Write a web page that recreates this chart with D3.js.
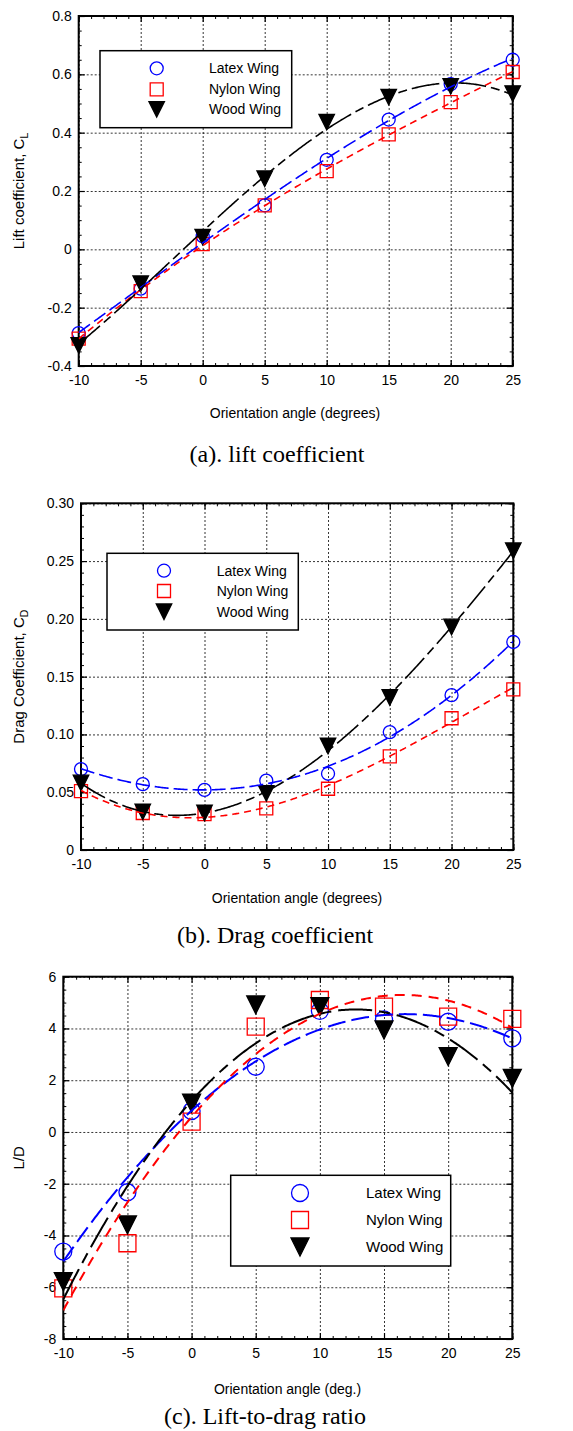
<!DOCTYPE html>
<html><head><meta charset="utf-8">
<script src="https://cdn.jsdelivr.net/npm/d3@7"></script>
<style>body{margin:0;background:#fff} svg{display:block}</style>
</head><body>
<script>
// ---------- data ----------
const angles=[-10,-5,0,5,10,15,20,25];
const seriesNames=["Latex Wing","Nylon Wing","Wood Wing"];
const liftLatex=[-0.287,-0.135,0.045,0.151,0.307,0.445,0.566,0.650];
const liftNylon=[-0.306,-0.143,0.018,0.151,0.268,0.394,0.505,0.608];
const liftWood=[-0.329,-0.118,0.042,0.242,0.436,0.522,0.559,0.534];
const dragLatex=[0.070,0.057,0.052,0.060,0.066,0.102,0.134,0.180];
const dragNylon=[0.051,0.032,0.031,0.036,0.053,0.081,0.114,0.139];
const dragWood=[0.058,0.033,0.032,0.049,0.090,0.132,0.193,0.259];
const ldLatex=[-4.62,-2.33,0.81,2.52,4.68,4.35,4.26,3.62];
const ldNylon=[-6.04,-4.30,0.40,4.07,5.10,4.84,4.46,4.37];
const ldWood=[-5.78,-3.59,1.11,4.91,4.84,3.94,2.91,2.07];
const xTickValues=[-10,-5,0,5,10,15,20,25];
const xTickLabels=["-10","-5","0","5","10","15","20","25"];
const liftTickValues=[-0.4,-0.2,0,0.2,0.4,0.6,0.8];
const liftTickLabels=["-0.4","-0.2","0","0.2","0.4","0.6","0.8"];
const dragTickValues=[0,0.05,0.10,0.15,0.20,0.25,0.30];
const dragTickLabels=["0","0.05","0.10","0.15","0.20","0.25","0.30"];
const ldTickValues=[-8,-6,-4,-2,0,2,4,6];
const ldTickLabels=["-8","-6","-4","-2","0","2","4","6"];
// polynomial order of each trend curve (Latex, Nylon, Wood)
const liftFitOrder=[3,3,3];
const dragFitOrder=[3,3,3];
const ldFitOrder=[2,2,2];

// ---------- helpers ----------
function polyfit(xs, ys, deg){
  const n=deg+1;
  const A=[...Array(n)].map(()=>Array(n+1).fill(0));
  for(let r=0;r<n;r++){
    for(let c=0;c<n;c++) A[r][c]=d3.sum(xs,x=>Math.pow(x,r+c));
    A[r][n]=d3.sum(xs.map((x,i)=>Math.pow(x,r)*ys[i]));
  }
  for(let i=0;i<n;i++){
    let p=i; for(let k=i+1;k<n;k++) if(Math.abs(A[k][i])>Math.abs(A[p][i])) p=k;
    [A[i],A[p]]=[A[p],A[i]];
    for(let k=0;k<n;k++){ if(k===i) continue; const f=A[k][i]/A[i][i]; for(let c=i;c<=n;c++) A[k][c]-=f*A[i][c]; }
  }
  const coef=A.map((row,i)=>row[n]/row[i]);
  return x=>coef.reduce((s,c,i)=>s+c*Math.pow(x,i),0);
}
function shapePath(shape, s){
  if(shape==="circle"){ const r=s/2; return `M${-r},0A${r},${r} 0 1,0 ${r},0A${r},${r} 0 1,0 ${-r},0Z`; }
  if(shape==="square"){ const h=s/2; return `M${-h},${-h}H${h}V${h}H${-h}Z`; }
  const w=s/2; return `M${-w},${-s/2}L${w},${-s/2}L0,${s/2}Z`;
}

const W=573,H=1431;
const svg=d3.select("body").append("svg").attr("width",W).attr("height",H);
const FONT="Liberation Sans, Arial, sans-serif";
const SERIF="Liberation Serif, Times New Roman, serif";

let clipId=0;
function panel(cfg){
  const g=svg.append("g");
  const x=d3.scaleLinear().domain([-10,25]).range([cfg.l,cfg.r]);
  const y=d3.scaleLinear().domain(cfg.yDomain).range([cfg.b,cfg.t]);
  const pw=cfg.r-cfg.l, ph=cfg.b-cfg.t;
  // grid
  g.append("g").attr("transform",`translate(0,${cfg.b})`)
    .call(d3.axisBottom(x).tickValues(xTickValues).tickSize(-ph).tickFormat(""))
    .call(a=>a.select(".domain").remove())
    .selectAll("line").attr("stroke","#000").attr("stroke-width",0.8).attr("stroke-dasharray","2,2");
  g.append("g").attr("transform",`translate(${cfg.l},0)`)
    .call(d3.axisLeft(y).tickValues(cfg.yTicks).tickSize(-pw).tickFormat(""))
    .call(a=>a.select(".domain").remove())
    .selectAll("line").attr("stroke","#000").attr("stroke-width",0.8).attr("stroke-dasharray","2,2");
  // minor ticks
  const xMinor=d3.range(-10,25.001,1);
  const yMinor=d3.range(cfg.yDomain[0],cfg.yDomain[1]+cfg.minor/2,cfg.minor);
  const axes=[
    [d3.axisBottom, x, `translate(0,${cfg.b})`, xMinor, xTickValues, xTickLabels],
    [d3.axisTop, x, `translate(0,${cfg.t})`, xMinor, xTickValues, null],
    [d3.axisLeft, y, `translate(${cfg.l},0)`, yMinor, cfg.yTicks, cfg.yLabels],
    [d3.axisRight, y, `translate(${cfg.r},0)`, yMinor, cfg.yTicks, null]
  ];
  axes.forEach(([ax,sc,tr,minor,major,labels])=>{
    g.append("g").attr("transform",tr).call(ax(sc).tickValues(minor).tickSize(-3).tickFormat(""))
      .call(a=>a.select(".domain").remove()).selectAll("line").attr("stroke","#000").attr("stroke-width",1);
    const a=g.append("g").attr("transform",tr)
      .call(ax(sc).tickValues(major).tickSize(-6).tickPadding(ax===d3.axisBottom?cfg.xPad:7)
        .tickFormat(labels?((d,i)=>labels[i]):""));
    a.select(".domain").remove();
    a.selectAll("line").attr("stroke","#000").attr("stroke-width",1.2);
    a.selectAll("text").attr("font-family",FONT).attr("font-size",cfg.tickFs).attr("fill","#000");
  });
  // frame
  g.append("rect").attr("x",cfg.l).attr("y",cfg.t).attr("width",pw).attr("height",ph)
    .attr("fill","none").attr("stroke","#000").attr("stroke-width",2);
  // clip
  const cid="clip"+(clipId++);
  svg.append("defs").append("clipPath").attr("id",cid).append("rect")
    .attr("x",cfg.l).attr("y",cfg.t).attr("width",pw).attr("height",ph);
  const styles=[
    {color:"#0000ff",shape:"circle"},
    {color:"#ff0000",shape:"square"},
    {color:"#000000",shape:"tri"}
  ];
  const fineX=d3.range(-10,25.0001,0.1);
  const line=d3.line().x(d=>x(d[0])).y(d=>y(d[1]));
  // markers
  const mk=g.append("g");
  cfg.series.forEach((vals,si)=>{
    const st=styles[si];
    mk.selectAll(null).data(angles.map((a,i)=>[a,vals[i]])).join("path")
      .attr("transform",d=>`translate(${x(d[0])},${y(d[1])})`)
      .attr("d",shapePath(st.shape, st.shape==="tri"?cfg.ts:cfg.ms))
      .attr("fill",st.shape==="tri"?"#000":"none")
      .attr("stroke",st.color).attr("stroke-width",1.3);
  });
  // fitted curves
  const cg=g.append("g").attr("clip-path",`url(#${cid})`);
  cfg.series.forEach((vals,si)=>{
    const f=polyfit(angles,vals,cfg.order[si]);
    cg.append("path").datum(fineX.map(v=>[v,f(v)])).attr("d",line)
      .attr("fill","none").attr("stroke",styles[si].color).attr("stroke-width",cfg.lw)
      .attr("stroke-dasharray",cfg.dashes[si]);
  });
  // legend
  const L=cfg.leg;
  g.append("rect").attr("x",L.x0).attr("y",L.y0).attr("width",L.x1-L.x0).attr("height",L.y1-L.y0)
    .attr("fill","#fff").attr("stroke","#000").attr("stroke-width",1.5);
  seriesNames.forEach((nm,i)=>{
    const st=styles[i];
    g.append("path").attr("transform",`translate(${L.sx},${L.rows[i]})`)
      .attr("d",shapePath(st.shape, st.shape==="tri"?cfg.ts:cfg.ms))
      .attr("fill",st.shape==="tri"?"#000":"none").attr("stroke",st.color).attr("stroke-width",1.3);
    g.append("text").attr("x",L.tx).attr("y",L.rows[i]).attr("dy","0.35em")
      .attr("font-family",FONT).attr("font-size",L.fs).text(nm);
  });
  // y title
  const yt=g.append("text").attr("transform",`translate(${cfg.ytx},${(cfg.t+cfg.b)/2}) rotate(-90)`)
    .attr("text-anchor","middle").attr("font-family",FONT).attr("font-size",cfg.yTitleFs);
  yt.append("tspan").text(cfg.yTitle);
  if(cfg.ySub) yt.append("tspan").attr("font-size",cfg.yTitleFs*0.7).attr("dy","0.35em").text(cfg.ySub);
  // x title
  g.append("text").attr("x",cfg.xtx).attr("y",cfg.xty).attr("text-anchor","middle")
    .attr("font-family",FONT).attr("font-size",cfg.titleFs).text(cfg.xTitle);
  // caption
  g.append("text").attr("x",cfg.capx).attr("y",cfg.capy).attr("text-anchor","middle")
    .attr("font-family",SERIF).attr("font-size",cfg.capFs).text(cfg.caption);
}

panel({l:78.7,r:512.7,t:16,b:366,yDomain:[-0.4,0.8],yTicks:liftTickValues,yLabels:liftTickLabels,minor:0.05,
  series:[liftLatex,liftNylon,liftWood],order:liftFitOrder,ms:13,ts:15.5,lw:1.6,tickFs:14,titleFs:14,yTitleFs:15,xPad:9,
  dashes:["14,5","7,5","28,5,9,5"],
  leg:{x0:100,y0:50.7,x1:291.7,y1:127.7,sx:156.7,tx:209,rows:[68.3,89.3,109.3],fs:14},
  yTitle:"Lift coefficient, C",ySub:"L",ytx:24,xTitle:"Orientation angle (degrees)",xtx:295,xty:418,
  caption:"(a). lift coefficient",capx:277,capy:462,capFs:24});

panel({l:81,r:513.3,t:503.3,b:850,yDomain:[0,0.3],yTicks:dragTickValues,yLabels:dragTickLabels,minor:0.01,
  series:[dragLatex,dragNylon,dragWood],order:dragFitOrder,ms:13,ts:15.5,lw:1.6,tickFs:14,titleFs:14,yTitleFs:15,xPad:9,
  dashes:["14,5","7,5","28,5,9,5"],
  leg:{x0:107,y0:553.3,x1:298.3,y1:630,sx:164,tx:216.7,rows:[570.7,591,611.7],fs:14},
  yTitle:"Drag Coefficient, C",ySub:"D",ytx:24,xTitle:"Orientation angle (degrees)",xtx:297,xty:903,
  caption:"(b). Drag coefficient",capx:275,capy:943,capFs:24});

panel({l:63.3,r:512.3,t:976.7,b:1339,yDomain:[-8,6],yTicks:ldTickValues,yLabels:ldTickLabels,minor:0.5,
  series:[ldLatex,ldNylon,ldWood],order:ldFitOrder,ms:17,ts:18,lw:2,tickFs:14,titleFs:14,yTitleFs:15,xPad:9,
  dashes:["18,6","10,7","34,7,11,7"],
  leg:{x0:230.7,y0:1175.3,x1:450.7,y1:1266,sx:300,tx:366,rows:[1193,1220,1247],fs:15},
  yTitle:"L/D",ySub:null,ytx:24,xTitle:"Orientation angle (deg.)",xtx:287.5,xty:1394,
  caption:"(c). Lift-to-drag ratio",capx:265,capy:1424,capFs:24});
</script>
</body></html>
